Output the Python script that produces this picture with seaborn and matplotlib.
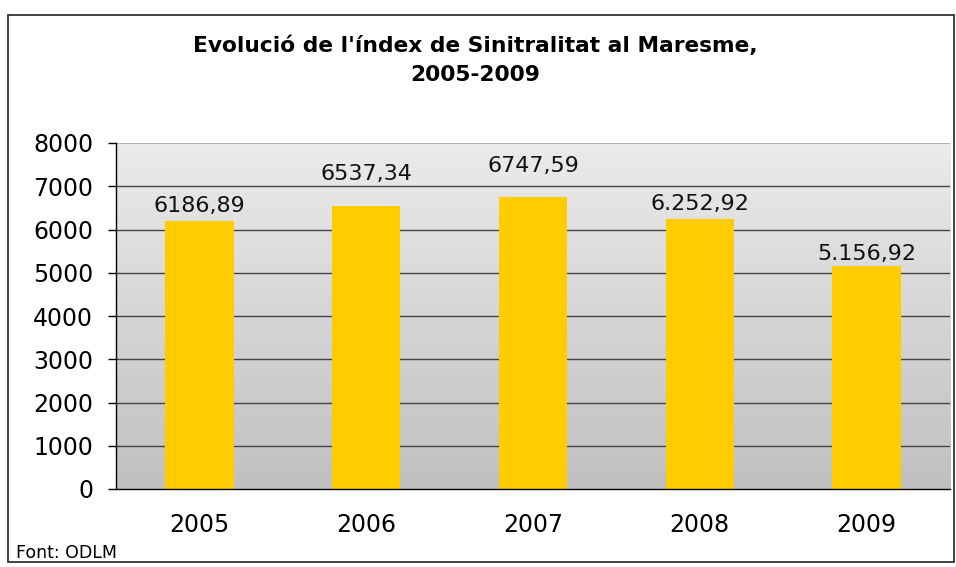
import numpy as np
import pandas as pd
import seaborn as sns
import matplotlib.pyplot as plt
from matplotlib.colors import LinearSegmentedColormap
from matplotlib.patches import Rectangle

years = ["2005", "2006", "2007", "2008", "2009"]
values = [6186.89, 6537.34, 6747.59, 6252.92, 5156.92]
value_labels = ["6186,89", "6537,34", "6747,59", "6.252,92", "5.156,92"]
y_ticks = [0, 1000, 2000, 3000, 4000, 5000, 6000, 7000, 8000]

df = pd.DataFrame({"year": years, "value": values})

sns.set_style("white")
plt.rcParams["font.family"] = ["DejaVu Sans"]
plt.rcParams["text.color"] = "black"
plt.rcParams["xtick.color"] = "black"
plt.rcParams["ytick.color"] = "black"

fig = plt.figure(figsize=(9.56, 5.67), dpi=100)
ax = fig.add_axes([116 / 956, 1 - 489 / 567, (950 - 116) / 956, (489 - 143) / 567])

# gradient background of the plot area
cmap = LinearSegmentedColormap.from_list("bg", ["#c0c0c0", "#ebebeb"])
grad = np.linspace(0, 1, 256).reshape(-1, 1)
ax.imshow(grad, extent=[-0.5, 4.5, 0, 8000], origin="lower", aspect="auto",
          cmap=cmap, zorder=0)

for t in y_ticks[1:-1]:
    ax.axhline(t, color="#444444", lw=1.0, zorder=1)
ax.axhline(y_ticks[-1], color="#b4b4b4", lw=1.5, zorder=1)

sns.barplot(data=df, x="year", y="value", color="#ffcc00", width=0.41,
            saturation=1, linewidth=0, edgecolor="none", ax=ax, zorder=2)

# excel placed some labels higher to dodge the gridlines
label_offset = [11, 23, 22.8, 10.8, 8.8]
for i, (v, lab) in enumerate(zip(values, value_labels)):
    ax.annotate(lab, (i, v), xytext=(0, label_offset[i]), textcoords="offset points",
                ha="center", va="center", fontsize=16, color="#111111")

ax.set_xlim(-0.5, 4.5)
ax.set_ylim(0, 8000)
ax.set_yticks(y_ticks)
ax.set_yticklabels([str(t) for t in y_ticks], fontsize=17)
ax.set_xticks(range(5))
ax.set_xticklabels(years, fontsize=17)
ax.set_xticks(np.arange(-0.5, 5, 1), minor=True)
ax.tick_params(axis="x", which="major", length=0, pad=17)
ax.tick_params(axis="x", which="minor", length=7, width=1, color="black", direction="out")
ax.tick_params(axis="y", length=6, width=1, color="black", direction="out", pad=10.5,
               left=True)
ax.set_xlabel("")
ax.set_ylabel("")
for s in ["top", "right"]:
    ax.spines[s].set_visible(False)
for s in ["left", "bottom"]:
    ax.spines[s].set_color("black")
    ax.spines[s].set_linewidth(1)

fig.text(0.497, 1 - 46 / 567, "Evolució de l'índex de Sinitralitat al Maresme,",
         ha="center", va="center", fontsize=15.7, fontweight="bold")
fig.text(0.497, 1 - 75 / 567, "2005-2009",
         ha="center", va="center", fontsize=15.7, fontweight="bold")
fig.text(16 / 956, 1 - 553 / 567, "Font: ODLM", ha="left", va="center", fontsize=12.5)

fig.patches.append(Rectangle((8 / 956, 5 / 567), 946 / 956, 547 / 567,
                             transform=fig.transFigure, fill=False,
                             edgecolor="#222222", lw=1.2))

fig.savefig("out.png", dpi=100)
